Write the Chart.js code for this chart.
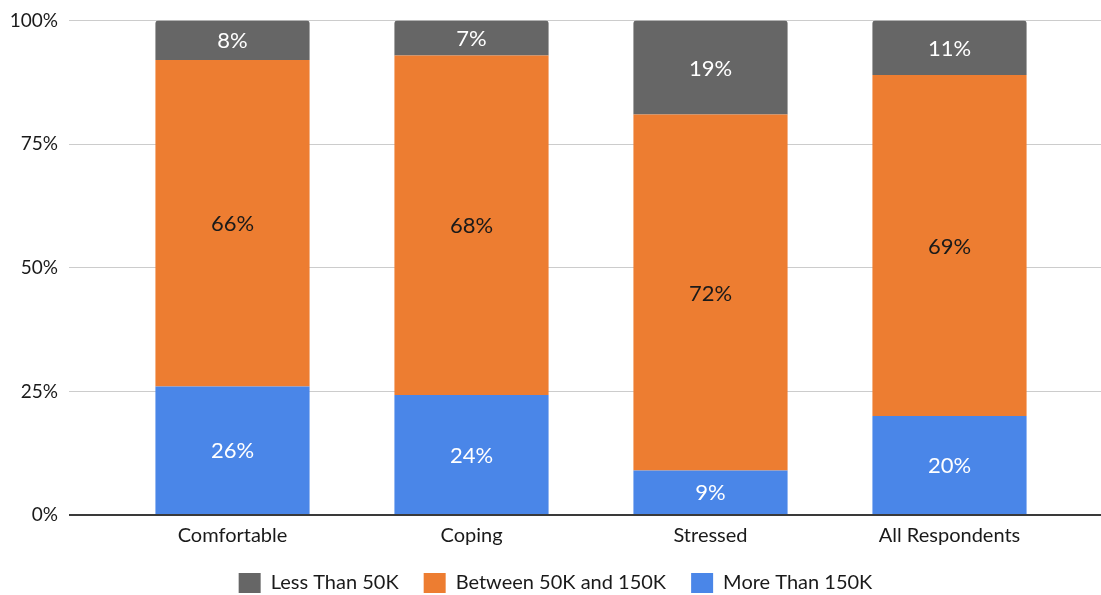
<!DOCTYPE html>
<html>
<head>
<meta charset="utf-8">
<script src="https://cdn.jsdelivr.net/npm/chart.js@4"></script>
<style>
  html, body { margin: 0; padding: 0; background: #fff; }
  #wrap { width: 1101px; height: 595px; position: relative; }
</style>
</head>
<body>
<div id="wrap"><canvas id="c" width="1101" height="595"></canvas></div>
<script>
// Income bands by financial situation (percent of each group)
const categories = ['Comfortable', 'Coping', 'Stressed', 'All Respondents'];
const moreThan150K = [26, 24, 9, 20];
const between50And150K = [66, 68, 72, 69];
const lessThan50K = [8, 7, 19, 11];
const yTicks = [0, 25, 50, 75, 100];
const seriesNames = ['More Than 150K', 'Between 50K and 150K', 'Less Than 50K'];

const FONT = 'Lato, "Open Sans", sans-serif';

// Each column is scaled to a 100% stack; the printed labels keep the raw values.
const totals = categories.map((_, i) => moreThan150K[i] + between50And150K[i] + lessThan50K[i]);
const share = arr => arr.map((v, i) => v / totals[i] * 100);

const rawValues = [moreThan150K, between50And150K, lessThan50K];

const segmentLabels = {
  id: 'segmentLabels',
  afterDatasetsDraw(chart) {
    const ctx = chart.ctx;
    ctx.save();
    ctx.font = '22px ' + FONT;
    ctx.textAlign = 'center';
    ctx.textBaseline = 'middle';
    chart.data.datasets.forEach((ds, di) => {
      const meta = chart.getDatasetMeta(di);
      meta.data.forEach((bar, i) => {
        const p = bar.getProps(['x', 'y', 'base'], true);
        ctx.fillStyle = ds.labelColor;
        ctx.fillText(rawValues[di][i] + '%', p.x, (p.y + p.base) / 2 + 1);
      });
    });
    ctx.restore();
  }
};

const gridColor = c => (c.tick && c.tick.value === 0) ? '#3a3a3a' : '#cccccc';
const gridWidth = c => (c.tick && c.tick.value === 0) ? 2 : 1;

new Chart(document.getElementById('c'), {
  type: 'bar',
  data: {
    labels: categories,
    datasets: [
      { label: seriesNames[0], data: share(moreThan150K), backgroundColor: '#4a86e8', labelColor: '#ffffff' },
      { label: seriesNames[1], data: share(between50And150K), backgroundColor: '#ed7d31', labelColor: '#1a1a1a' },
      { label: seriesNames[2], data: share(lessThan50K), backgroundColor: '#666666', labelColor: '#ffffff',
        borderRadius: { topLeft: 3, topRight: 3, bottomLeft: 0, bottomRight: 0 }, borderSkipped: 'bottom' }
    ]
  },
  options: {
    responsive: false,
    animation: false,
    devicePixelRatio: 1,
    layout: { padding: { left: 10, right: 0, top: 13, bottom: -8 } },
    datasets: { bar: { categoryPercentage: 1, barPercentage: 0.645 } },
    plugins: {
      legend: {
        position: 'bottom',
        reverse: true,
        labels: {
          boxWidth: 22, boxHeight: 20, padding: 25, color: '#1a1a1a',
          font: { family: FONT, size: 20 }
        }
      },
      tooltip: { enabled: false }
    },
    scales: {
      x: {
        stacked: true,
        afterFit: s => { s.height = 33; },
        grid: { display: false, drawTicks: false },
        border: { display: false },
        ticks: { color: '#1a1a1a', font: { family: FONT, size: 20, lineHeight: 1.1 }, padding: 10 }
      },
      y: {
        stacked: true,
        min: 0, max: 100,
        afterBuildTicks: s => { s.ticks = yTicks.map(v => ({ value: v })); },
        afterFit: s => { s.width = 103; },
        grid: { color: gridColor, lineWidth: gridWidth, drawTicks: true, tickLength: 44 },
        border: { display: false },
        ticks: { color: '#1a1a1a', font: { family: FONT, size: 19, lineHeight: 1 }, padding: 11,
                 callback: v => v + '%' }
      },
      yRight: {
        position: 'right',
        min: 0, max: 100,
        afterBuildTicks: s => { s.ticks = yTicks.map(v => ({ value: v })); },
        grid: { color: gridColor, lineWidth: gridWidth, drawOnChartArea: false, drawTicks: true, tickLength: 32 },
        border: { display: false },
        ticks: { display: false }
      }
    }
  },
  plugins: [segmentLabels]
});
</script>
</body>
</html>
